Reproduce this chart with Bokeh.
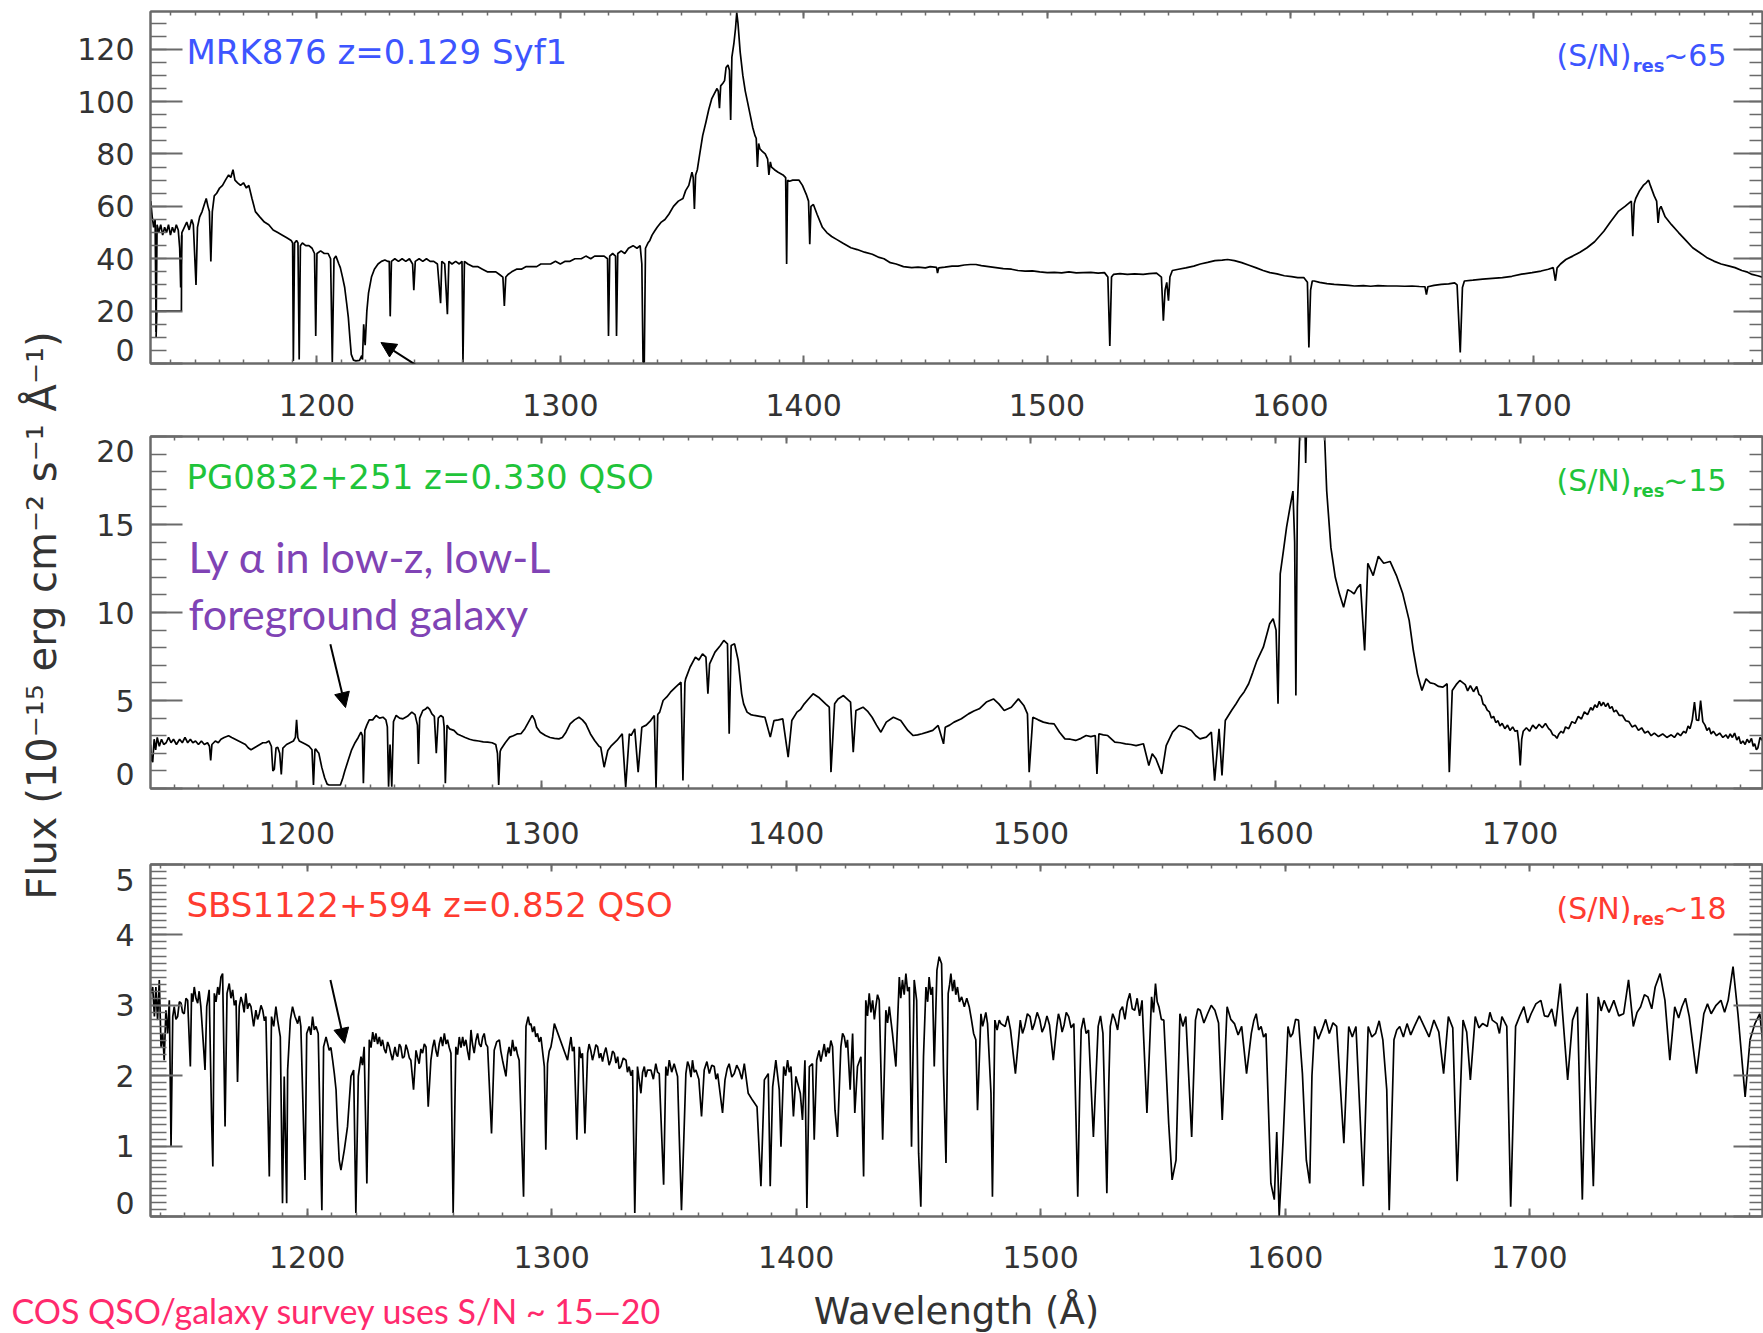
import math
from bokeh.plotting import figure
from bokeh.layouts import row, column
from bokeh.models import (Range1d, LinearAxis, SingleIntervalTicker, FixedTicker, Label,
                          Arrow, NormalHead, ColumnDataSource, CustomLabelingPolicy)
from bokeh.embed import file_html
from bokeh.resources import INLINE

# ---------------------------------------------------------------------------
# MRK876 (z=0.129, Seyfert 1) -- wavelength (A) and flux (1e-15 erg/cm2/s/A)
# ---------------------------------------------------------------------------
MRK876_WAVE = [
    1131.7, 1132.3, 1132.9, 1133.5, 1133.9, 1134.3, 1135.0, 1135.8, 1136.6, 1137.4,
    1138.2, 1139.0, 1139.8, 1140.6, 1141.4, 1142.2, 1143.0, 1143.6, 1144.0, 1144.5,
    1145.5, 1146.5, 1147.5, 1148.5, 1149.2, 1150.3, 1150.9, 1151.8, 1152.8, 1153.8,
    1154.5, 1155.2, 1155.8, 1156.4, 1157.0, 1157.8, 1158.8, 1160.0, 1161.2, 1162.4,
    1163.7, 1164.6, 1165.5, 1166.3, 1167.4, 1168.6, 1169.8, 1171.0, 1172.0, 1173.3,
    1174.7, 1176.5, 1178.4, 1180.2, 1182.0, 1183.9, 1185.8, 1187.6, 1189.4, 1190.0,
    1190.3, 1190.8, 1191.6, 1192.2, 1192.7, 1193.2, 1194.0, 1195.4, 1196.7, 1198.0,
    1199.0, 1199.5, 1200.0, 1201.5, 1203.0, 1204.6, 1205.6, 1206.3, 1207.0, 1207.8,
    1209.0, 1209.6, 1210.5, 1211.4, 1212.2, 1212.9, 1213.6, 1214.1, 1215.0, 1216.0,
    1217.5, 1218.4, 1218.7, 1219.2, 1219.8, 1220.5, 1221.2, 1222.4, 1223.6, 1225.1,
    1226.5, 1227.9, 1229.0, 1229.7, 1230.1, 1230.6, 1232.0, 1233.5, 1235.0, 1236.5,
    1238.0, 1239.3, 1239.8, 1240.4, 1242.0, 1243.5, 1245.0, 1246.5, 1248.0, 1249.5,
    1250.8, 1251.3, 1252.5, 1253.6, 1254.2, 1255.5, 1257.0, 1258.5, 1259.6, 1260.0,
    1260.6, 1262.0, 1264.0, 1266.0, 1268.0, 1270.0, 1271.9, 1273.5, 1275.0, 1276.4,
    1277.0, 1277.6, 1278.5, 1280.0, 1282.0, 1284.0, 1286.0, 1288.0, 1290.3, 1292.0,
    1294.0, 1296.0, 1298.0, 1300.0, 1302.0, 1304.0, 1306.0, 1308.6, 1310.5, 1312.5,
    1314.1, 1316.0, 1318.0, 1319.4, 1319.8, 1320.3, 1321.5, 1322.7, 1323.1, 1323.6,
    1325.0, 1326.5, 1328.0, 1329.9, 1331.5, 1332.8, 1333.5, 1334.0, 1334.5, 1335.0,
    1336.0, 1336.8, 1337.7, 1338.7, 1339.8, 1341.5, 1343.0, 1344.6, 1346.5, 1348.5,
    1350.4, 1351.5, 1352.8, 1354.1, 1354.6, 1355.1, 1355.6, 1356.3, 1357.3, 1358.5,
    1359.8, 1361.0, 1362.2, 1363.3, 1364.4, 1364.9, 1365.4, 1365.9, 1366.8, 1367.5,
    1368.1, 1368.9, 1369.5, 1370.0, 1370.5, 1371.3, 1372.0, 1372.5, 1373.0, 1373.9,
    1375.0, 1376.0, 1376.9, 1378.0, 1379.1, 1380.0, 1380.5, 1381.0, 1381.5, 1382.0,
    1383.0, 1384.2, 1385.2, 1385.7, 1386.3, 1386.8, 1388.0, 1389.5, 1391.5, 1392.6,
    1393.0, 1393.4, 1394.2, 1395.5, 1397.0, 1398.1, 1399.5, 1401.1, 1402.0, 1402.5,
    1403.0, 1404.0, 1405.5, 1407.7, 1409.5, 1411.5, 1413.5, 1416.0, 1419.4, 1422.0,
    1425.0, 1428.2, 1431.0, 1433.0, 1435.6, 1438.0, 1441.0, 1444.4, 1447.0, 1450.0,
    1452.0, 1454.6, 1455.0, 1455.5, 1458.0, 1461.0, 1463.4, 1466.0, 1468.5, 1470.8,
    1473.0, 1476.0, 1479.0, 1482.0, 1485.4, 1488.0, 1491.0, 1494.0, 1497.0, 1500.1,
    1503.0, 1506.0, 1509.0, 1512.0, 1514.8, 1518.0, 1521.0, 1523.6, 1525.0, 1525.8,
    1526.5, 1527.3, 1530.0, 1533.0, 1536.0, 1539.5, 1542.0, 1545.0, 1547.0, 1547.8,
    1548.5, 1549.2, 1549.9, 1550.5, 1551.5, 1554.0, 1557.0, 1560.3, 1563.0, 1566.0,
    1569.0, 1572.0, 1574.2, 1577.0, 1580.0, 1583.0, 1586.0, 1588.8, 1591.6, 1594.5,
    1597.5, 1600.5, 1603.0, 1605.5, 1607.0, 1607.6, 1608.3, 1609.0, 1609.8, 1612.0,
    1615.0, 1618.0, 1621.0, 1624.0, 1626.3, 1630.0, 1633.0, 1636.0, 1640.0, 1643.7,
    1647.0, 1650.0, 1653.0, 1655.3, 1655.9, 1656.5, 1659.0, 1662.0, 1665.0, 1667.5,
    1668.5, 1669.8, 1670.7, 1671.5, 1675.0, 1679.0, 1683.0, 1687.1, 1691.0, 1695.0,
    1699.3, 1703.0, 1706.0, 1708.0, 1708.9, 1709.6, 1711.0, 1713.2, 1716.0, 1719.0,
    1721.9, 1725.0, 1728.8, 1731.5, 1734.9, 1737.5, 1740.1, 1740.7, 1741.3, 1741.9,
    1743.5, 1745.0, 1746.2, 1747.2, 1747.9, 1749.5, 1750.5, 1751.1, 1751.7, 1752.3,
    1754.0, 1756.6, 1759.5, 1762.5, 1765.3, 1768.0, 1771.0, 1774.0, 1777.0, 1780.0,
    1782.7, 1785.5, 1787.5, 1789.7, 1792.0, 1794.5,
]
MRK876_FLUX = [
    62, 56, 52, 55, 12, 53, 50, 53, 49, 52,
    50, 53, 49, 52, 50, 53, 51, 44, 29, 50,
    52, 54, 51, 55, 53, 30, 52, 56, 58, 61,
    63, 60, 58, 39, 58, 64, 65, 67, 68, 70,
    72, 71, 74, 70, 69, 68, 69, 67, 68, 63,
    58, 56, 54, 53, 51, 50, 49, 48, 47, 46,
    1, 46, 47, 46, 1.5, 45, 46, 45, 45, 44,
    42, 10.5, 42, 43, 42, 42, 40, 0.5, 40, 41,
    38, 36.6, 33, 29, 23, 17.5, 9, 3.5, 1.3, 1.0,
    1.2, 3, 1.5, 15, 7, 20, 27, 33, 36, 38,
    39, 39.5, 39, 39, 18, 39, 40, 39, 40, 39,
    40, 38, 28, 39, 40, 39, 40, 39, 39, 38,
    23, 39, 38, 18.8, 39, 38, 39, 38, 39, 0.4,
    39, 38, 37, 37, 36, 35, 35, 35, 34, 33,
    22, 33, 34, 35, 36, 36, 37, 37, 37, 38,
    38, 38, 39, 38, 39, 39, 40, 40, 41, 40,
    41, 41, 41, 40, 10.5, 41, 42, 41, 10.5, 42,
    43, 42, 44, 45, 44, 45, 38, 0.5, 0.5, 44,
    46, 47, 49, 50.5, 52, 54, 55, 57, 60, 62,
    63, 66, 68, 73, 71, 59, 72, 74, 80, 87,
    92, 97, 101, 103, 105, 104, 97.5, 106, 107, 108,
    113, 114, 112, 93, 117, 122, 128, 134, 130, 119,
    110, 104, 100, 95, 90, 87, 86, 75, 84, 82,
    81, 80, 78, 72, 77, 75, 74, 73, 72, 71,
    38, 70, 69.6, 70, 70, 70, 68, 64.5, 62, 45.5,
    60, 60.7, 57, 52, 50, 48.5, 47.4, 46, 44.2, 43.5,
    42.5, 41.7, 40.5, 40, 38.5, 38, 37, 36.6, 36.8, 36.5,
    37, 36.7, 34.5, 36.5, 36.8, 37.2, 37.2, 37.6, 37.8, 37.8,
    37.4, 37, 36.6, 36.2, 36, 35.5, 35.3, 35.4, 35, 34.7,
    34.8, 34.6, 35, 34.6, 34.7, 34.8, 34.5, 34.7, 33, 6.7,
    33, 34, 34.3, 34, 34.2, 34, 34.3, 34.5, 33, 16.3,
    28, 31, 24, 33, 35.5, 36, 36.5, 37.2, 38, 38.6,
    39.3, 39.5, 39.7, 39.3, 38.5, 37.5, 36.5, 35.5, 34.7, 34.2,
    33.5, 33.2, 32.8, 32.8, 31, 6.1, 28, 31.5, 31.5, 31,
    30.5, 30.2, 30.0, 29.8, 29.6, 29.7, 29.5, 29.7, 29.6, 29.6,
    29.5, 29.6, 29.4, 29.3, 26.3, 29.3, 29.8, 30.2, 30.4, 30.8,
    30, 4.2, 29, 31.5, 31.8, 32.2, 32.5, 32.8, 33.3, 34.1,
    34.7, 35.3, 36, 36.6, 31.6, 36.5, 38, 39.7, 41, 42.5,
    44.2, 46.5, 50.5, 54, 58.2, 60, 62, 48.6, 61, 63,
    66, 68, 69, 70, 68, 64, 62, 53.7, 59, 60,
    56, 53, 50, 47, 44.2, 42.5, 40.5, 39.1, 38, 37.3,
    36.6, 35.5, 35, 34, 33.5, 32.8,
]
# short detector-edge segment at the blue end of the MRK876 spectrum
MRK876_EDGE_WAVE = [1133.9, 1134.2, 1144.3, 1144.4]
MRK876_EDGE_FLUX = [10, 20, 20, 49]

# ---------------------------------------------------------------------------
# PG0832+251 (z=0.330, QSO)
# ---------------------------------------------------------------------------
PG0832_WAVE = [
    1140.2, 1140.7, 1141.1, 1141.7, 1142.3, 1142.95, 1143.8, 1144.7, 1145.6, 1146.6,
    1147.6, 1148.6, 1149.6, 1150.8, 1152.1, 1153.2, 1154.3, 1155.4, 1156.5, 1157.5,
    1158.6, 1159.8, 1161.0, 1162.2, 1163.5, 1164.3, 1164.8, 1165.3, 1166.7, 1167.9,
    1169.0, 1170.3, 1172.1, 1173.4, 1174.8, 1176.2, 1177.6, 1179.0, 1180.2, 1181.3,
    1182.5, 1183.7, 1184.9, 1186.1, 1187.4, 1188.6, 1189.6, 1190.2, 1190.8, 1191.5,
    1192.2, 1193.0, 1193.65, 1194.3, 1195.8, 1197.2, 1198.6, 1199.4, 1199.9, 1200.4,
    1201.0, 1202.4, 1203.8, 1205.0, 1206.2, 1206.8, 1207.4, 1207.7, 1208.4, 1209.0,
    1210.2, 1211.4, 1212.4, 1213.2, 1215.5, 1217.8, 1218.8, 1219.6, 1221.0, 1222.4,
    1223.8, 1225.1, 1226.2, 1226.8, 1227.2, 1227.8, 1228.6, 1229.6, 1231.0, 1232.4,
    1233.8, 1235.2, 1236.4, 1237.0, 1237.5, 1238.1, 1238.8, 1239.5, 1240.6, 1242.0,
    1243.4, 1245.2, 1247.0, 1248.3, 1249.3, 1249.7, 1250.2, 1251.5, 1252.5, 1253.4,
    1254.3, 1255.2, 1256.2, 1257.0, 1257.8, 1258.8, 1259.8, 1260.2, 1260.7, 1261.4,
    1262.4, 1264.2, 1265.6, 1267.0, 1268.8, 1270.6, 1272.5, 1274.3, 1276.2, 1278.0,
    1279.8, 1281.3, 1282.0, 1282.5, 1283.1, 1283.5, 1285.2, 1287.0, 1288.5, 1290.0,
    1291.6, 1293.2, 1294.8, 1296.2, 1297.2, 1298.0, 1299.5, 1301.6, 1303.5, 1305.3,
    1307.1, 1308.5, 1310.0, 1311.7, 1313.5, 1315.3, 1316.7, 1318.1, 1320.0, 1321.7,
    1323.5, 1324.2, 1325.6, 1327.1, 1328.6, 1330.8, 1333.0, 1334.4, 1335.9, 1336.6,
    1338.1, 1339.5, 1341.0, 1342.8, 1344.6, 1346.1, 1346.8, 1347.5, 1348.3, 1349.7,
    1351.2, 1352.7, 1354.8, 1357.0, 1357.8, 1358.6, 1358.9, 1360.7, 1362.9, 1364.3,
    1365.8, 1367.2, 1368.0, 1368.7, 1370.9, 1373.1, 1374.5, 1376.0, 1376.7, 1377.5,
    1378.9, 1380.4, 1381.8, 1382.6, 1384.0, 1385.5, 1387.0, 1389.2, 1391.3, 1393.5,
    1395.0, 1396.8, 1398.6, 1400.8, 1402.3, 1404.4, 1405.9, 1407.4, 1409.2, 1411.0,
    1413.2, 1416.1, 1417.6, 1418.3, 1419.8, 1421.2, 1423.4, 1426.3, 1427.4, 1428.5,
    1431.4, 1433.2, 1435.1, 1436.9, 1438.7, 1440.9, 1443.8, 1446.8, 1449.7, 1451.9,
    1453.7, 1455.5, 1457.7, 1459.9, 1462.1, 1464.3, 1465.0, 1466.8, 1468.6, 1471.6,
    1474.5, 1476.7, 1478.9, 1481.8, 1484.7, 1486.9, 1489.1, 1492.0, 1494.9, 1497.1,
    1498.6, 1499.3, 1500.8, 1503.0, 1505.1, 1507.3, 1509.5, 1511.7, 1513.9, 1516.1,
    1518.3, 1520.5, 1522.6, 1524.5, 1526.3, 1527.0, 1527.8, 1529.6, 1531.4, 1534.3,
    1536.5, 1538.7, 1540.9, 1543.0, 1546.0, 1548.2, 1549.6, 1551.1, 1553.5, 1555.3,
    1557.9, 1560.5, 1563.0, 1565.6, 1567.4, 1569.1, 1571.7, 1573.75, 1575.1, 1576.9,
    1578.1, 1579.45, 1582.0, 1583.8, 1585.5, 1587.2, 1589.0, 1590.7, 1592.4, 1595.0,
    1597.6, 1599.0, 1600.2, 1601.0, 1601.9, 1603.2, 1604.5, 1605.8, 1607.1, 1607.8,
    1608.3, 1608.9, 1609.3, 1610.5, 1611.7, 1612.3, 1613.1, 1619.2, 1620.9, 1622.6,
    1624.4, 1626.1, 1627.8, 1629.5, 1630.8, 1632.1, 1633.4, 1634.7, 1636.4, 1637.7,
    1639.9, 1642.0, 1644.2, 1646.8, 1649.4, 1652.0, 1654.6, 1656.3, 1658.0, 1659.8,
    1661.5, 1663.2, 1664.9, 1666.6, 1668.4, 1670.1, 1671.0, 1672.2, 1673.8, 1675.3,
    1677.5, 1678.5, 1679.6, 1680.9, 1682.2, 1683.1, 1684.0, 1684.8, 1685.7, 1686.5,
    1687.4, 1688.2, 1689.1, 1690.0, 1690.9, 1691.7, 1692.6, 1693.7, 1694.8, 1695.8,
    1696.9, 1697.9, 1698.8, 1699.4, 1700.0, 1700.6, 1701.2, 1702.5, 1703.8, 1705.1,
    1706.4, 1707.7, 1709.0, 1710.3, 1711.6, 1712.4, 1713.3, 1714.2, 1715.0, 1715.8,
    1716.7, 1717.6, 1718.5, 1719.8, 1721.1, 1722.4, 1723.7, 1725.0, 1726.2, 1727.5,
    1728.8, 1729.6, 1730.5, 1731.4, 1732.3, 1733.1, 1734.0, 1734.9, 1735.8, 1736.6,
    1737.5, 1738.3, 1739.2, 1740.5, 1741.8, 1743.1, 1744.4, 1745.7, 1747.0, 1748.3,
    1749.6, 1750.9, 1752.2, 1753.5, 1754.8, 1756.5, 1758.2, 1759.9, 1761.7, 1763.0,
    1764.3, 1765.5, 1766.8, 1767.7, 1768.6, 1769.4, 1770.3, 1771.2, 1772.0, 1772.9,
    1773.7, 1774.6, 1775.5, 1776.3, 1777.2, 1778.0, 1778.9, 1780.2, 1781.5, 1782.8,
    1784.1, 1784.9, 1785.8, 1786.7, 1787.6, 1788.5, 1789.3, 1790.1, 1791.0, 1791.9,
    1792.7, 1793.6, 1794.5, 1795.2, 1795.8, 1796.5, 1797.1, 1798.0, 1799.0,
]
PG0832_FLUX = [
    2.5, 1.6, 1.5, 2.8, 2.2, 2.9, 2.4, 2.8, 2.5, 2.6,
    2.9, 2.6, 2.8, 2.5, 2.8, 2.6, 2.9, 2.6, 2.8, 2.6,
    2.7, 2.5, 2.7, 2.5, 2.6, 2.4, 1.6, 2.5, 2.7, 2.6,
    2.8, 2.9, 3.0, 2.9, 2.8, 2.7, 2.6, 2.5, 2.3, 2.2,
    2.3, 2.4, 2.5, 2.6, 2.6, 2.7, 2.4, 1.0, 1.1, 2.3,
    2.35, 2.0, 0.8, 2.3, 2.5, 2.6, 2.7, 2.9, 3.9, 2.9,
    2.7, 2.6, 2.5, 2.4, 2.2, 0.2, 2.2, 2.25, 2.1, 2.0,
    1.2, 0.6, 0.25, 0.2, 0.2, 0.2, 0.6, 1.0, 1.6, 2.2,
    2.6, 2.9, 3.2, 3.0, 0.3, 3.3, 3.6, 3.9, 3.9, 4.15,
    4.0, 4.05, 3.9, 3.5, 0.1, 2.5, 0.1, 3.8, 4.15, 4.0,
    3.96, 4.1, 4.34, 4.2, 3.6, 1.4, 4.0, 4.43, 4.5, 4.62,
    4.5, 4.24, 4.1, 2.0, 4.0, 4.15, 4.05, 3.5, 0.3, 3.6,
    3.39, 3.3, 3.1, 3.01, 2.9, 2.8, 2.73, 2.7, 2.65, 2.63,
    2.6, 2.5, 2.0, 0.2, 2.1, 2.25, 2.6, 2.92, 3.0, 3.1,
    3.11, 3.4, 3.8, 4.15, 3.9, 3.48, 3.2, 3.01, 2.9, 2.85,
    2.82, 2.9, 3.2, 3.67, 3.9, 4.05, 3.9, 3.67, 3.1, 2.73,
    2.4, 2.35, 1.21, 2.16, 2.44, 2.73, 3.11, 0.08, 3.11, 3.01,
    3.39, 0.93, 3.48, 3.6, 3.86, 4.15, 0.0, 4.2, 4.34, 5.0,
    5.2, 5.47, 5.76, 6.04, 0.45, 6.0, 6.23, 6.89, 7.46, 7.3,
    7.65, 7.46, 5.38, 7.08, 7.75, 8.13, 8.41, 8.22, 3.11, 8.13,
    8.22, 7.27, 5.38, 4.81, 4.34, 4.2, 4.15, 4.1, 4.05, 2.92,
    3.86, 3.9, 3.96, 1.78, 3.86, 4.34, 4.5, 4.81, 5.1, 5.38,
    5.19, 4.81, 4.62, 0.93, 4.81, 5.09, 5.28, 4.91, 2.06, 4.43,
    4.62, 4.4, 4.05, 3.6, 3.2, 3.77, 4.05, 3.86, 3.30, 3.01,
    3.05, 3.11, 3.2, 3.30, 3.58, 2.54, 3.48, 3.6, 3.77, 3.96,
    4.24, 4.4, 4.53, 4.91, 5.09, 4.81, 4.43, 4.62, 5.09, 4.72,
    4.24, 0.93, 4.05, 3.9, 3.77, 3.7, 3.67, 3.20, 2.82, 2.8,
    2.73, 2.85, 3.01, 2.95, 3.01, 0.83, 3.11, 3.05, 3.01, 2.63,
    2.6, 2.54, 2.5, 2.44, 2.54, 1.31, 1.97, 1.69, 0.83, 2.44,
    3.20, 3.58, 3.48, 3.30, 3.0, 2.82, 2.92, 3.20, 0.45, 3.39,
    0.74, 3.86, 4.43, 4.8, 5.19, 5.5, 5.95, 6.6, 7.27, 8.03,
    9.36, 9.64, 9.0, 4.81, 12.2, 13.5, 14.85, 15.9, 16.9, 14.0,
    5.28, 16.0, 17.5, 23, 23, 18.5, 23, 23, 16.9, 13.7,
    12.0, 11.06, 10.3, 11.3, 11.2, 11.06, 11.4, 11.6, 7.84, 12.8,
    12.1, 13.2, 12.8, 12.9, 12.1, 11.06, 9.55, 7.84, 6.5, 5.57,
    6.23, 6.0, 5.95, 5.8, 5.76, 5.95, 0.93, 5.57, 5.9, 6.14,
    5.9, 5.55, 5.85, 5.5, 5.8, 5.35, 5.25, 4.8, 4.7, 4.45,
    4.35, 4.0, 4.1, 3.75, 3.85, 3.55, 3.7, 3.4, 3.6, 3.3,
    3.5, 3.25, 3.3, 2.6, 1.31, 2.8, 3.25, 3.45, 3.25, 3.6,
    3.4, 3.65, 3.45, 3.7, 3.4, 3.3, 3.05, 3.0, 2.85, 3.1,
    3.25, 3.15, 3.5, 3.4, 3.8, 3.7, 4.1, 3.95, 4.35, 4.2,
    4.6, 4.45, 4.75, 4.6, 4.95, 4.7, 4.9, 4.65, 4.85, 4.55,
    4.65, 4.35, 4.45, 4.15, 4.15, 3.85, 3.8, 3.5, 3.6, 3.3,
    3.45, 3.15, 3.25, 3.0, 3.15, 2.95, 3.1, 2.9, 3.05, 2.9,
    3.15, 3.0, 3.25, 3.15, 3.55, 3.4, 3.9, 4.91, 3.9, 3.86,
    5.0, 3.8, 3.6, 3.3, 3.45, 3.1, 3.25, 3.0, 3.15, 2.9,
    3.05, 2.85, 3.1, 2.9, 3.15, 2.75, 2.95, 2.55, 2.7, 2.5,
    2.8, 2.6, 2.85, 2.4, 2.55, 2.2, 2.3, 2.9, 2.73,
]

# ---------------------------------------------------------------------------
# SBS1122+594 (z=0.852, QSO)
# ---------------------------------------------------------------------------
SBS1122_WAVE = [
    1136.1, 1136.8, 1137.5, 1138.1, 1138.8, 1139.5, 1140.2, 1140.9, 1141.5, 1142.2,
    1142.9, 1143.6, 1144.3, 1145.0, 1145.6, 1146.3, 1147.0, 1147.7, 1148.4, 1149.0,
    1149.7, 1150.4, 1151.1, 1152.2, 1152.7, 1153.2, 1153.8, 1154.5, 1155.2, 1155.8,
    1156.5, 1157.6, 1158.2, 1158.9, 1159.9, 1160.9, 1161.4, 1162.0, 1162.7, 1163.4,
    1164.0, 1164.7, 1165.4, 1166.4, 1167.2, 1168.1, 1168.8, 1169.5, 1170.2, 1170.9,
    1171.5, 1172.2, 1172.9, 1173.6, 1174.2, 1174.9, 1175.6, 1176.3, 1177.0, 1178.1,
    1179.0, 1179.7, 1180.4, 1181.1, 1181.8, 1182.5, 1183.1, 1184.5, 1185.4, 1186.3,
    1187.2, 1187.9, 1189.0, 1189.9, 1190.6, 1191.6, 1192.0, 1193.1, 1194.0, 1195.0,
    1196.1, 1196.8, 1197.4, 1199.1, 1199.8, 1200.8, 1201.5, 1202.2, 1202.9, 1203.6,
    1204.5, 1206.0, 1206.7, 1207.7, 1208.4, 1209.0, 1209.7, 1210.4, 1211.1, 1211.8,
    1212.4, 1213.1, 1213.8, 1215.2, 1216.5, 1217.9, 1219.0, 1219.9, 1220.9, 1222.0,
    1222.6, 1223.3, 1224.4, 1225.4, 1226.1, 1226.8, 1227.5, 1228.1, 1228.8, 1229.5,
    1230.2, 1230.8, 1231.5, 1232.2, 1232.9, 1233.6, 1234.3, 1234.9, 1235.9, 1236.5,
    1237.0, 1237.7, 1238.3, 1239.0, 1239.7, 1240.4, 1241.1, 1241.8, 1242.4, 1243.5,
    1244.5, 1245.2, 1245.8, 1246.5, 1247.2, 1247.9, 1248.6, 1249.5, 1250.6, 1251.3,
    1252.0, 1252.7, 1253.3, 1254.0, 1254.7, 1255.4, 1256.1, 1256.8, 1257.4, 1258.1,
    1258.8, 1259.7, 1260.8, 1261.5, 1262.2, 1262.9, 1263.6, 1264.2, 1264.9, 1265.6,
    1266.3, 1267.0, 1267.6, 1268.3, 1269.0, 1269.7, 1270.4, 1271.1, 1271.8, 1272.4,
    1273.1, 1273.8, 1275.4, 1276.5, 1277.5, 1278.6, 1279.2, 1279.9, 1281.3, 1282.0,
    1282.6, 1283.3, 1284.0, 1284.7, 1285.4, 1286.0, 1286.7, 1288.5, 1289.5, 1290.4,
    1291.0, 1291.5, 1292.2, 1292.9, 1293.5, 1294.2, 1294.9, 1295.6, 1297.0, 1297.6,
    1298.3, 1299.0, 1299.7, 1300.4, 1301.1, 1306.5, 1307.2, 1307.9, 1308.5, 1309.2,
    1310.3, 1311.3, 1312.0, 1312.6, 1313.6, 1314.7, 1315.3, 1316.0, 1316.7, 1317.4,
    1318.1, 1318.8, 1319.5, 1320.1, 1320.8, 1321.5, 1322.2, 1322.9, 1323.5, 1324.2,
    1324.9, 1325.6, 1326.3, 1327.0, 1327.6, 1328.3, 1329.3, 1330.4, 1331.0, 1331.7,
    1332.4, 1333.1, 1334.0, 1335.1, 1336.5, 1337.2, 1337.9, 1338.5, 1339.2, 1340.6,
    1341.6, 1342.6, 1343.3, 1344.0, 1345.8, 1346.7, 1347.4, 1348.1, 1349.1, 1350.1,
    1351.5, 1352.2, 1353.1, 1354.0, 1354.9, 1355.6, 1356.3, 1357.0, 1357.6, 1358.3,
    1359.0, 1360.2, 1361.3, 1362.4, 1363.5, 1364.5, 1365.5, 1366.5, 1367.2, 1367.9,
    1369.9, 1370.9, 1371.8, 1372.6, 1373.7, 1374.7, 1375.7, 1376.7, 1377.8, 1378.8,
    1380.4, 1382.2, 1384.0, 1385.6, 1387.0, 1388.6, 1389.4, 1390.4, 1391.7, 1393.1,
    1393.8, 1394.9, 1395.7, 1396.5, 1397.2, 1397.9, 1398.9, 1399.9, 1401.7, 1402.6,
    1403.6, 1404.4, 1405.4, 1406.7, 1407.4, 1408.4, 1409.4, 1410.1, 1410.8, 1411.5,
    1412.2, 1412.9, 1413.5, 1414.2, 1414.9, 1415.9, 1416.9, 1418.3, 1419.0, 1419.7,
    1420.4, 1421.0, 1422.1, 1423.1, 1424.0, 1425.1, 1426.5, 1427.6, 1428.5, 1429.2,
    1429.9, 1430.6, 1431.3, 1432.0, 1432.6, 1433.3, 1434.0, 1435.4, 1436.7, 1437.4,
    1438.1, 1439.4, 1440.8, 1442.2, 1442.8, 1443.5, 1444.2, 1444.9, 1445.6, 1446.3,
    1447.2, 1448.3, 1449.3, 1450.1, 1451.0, 1452.1, 1453.1, 1453.8, 1454.4, 1455.1,
    1455.8, 1456.5, 1457.6, 1458.5, 1459.5, 1460.3, 1461.3, 1462.2, 1462.8, 1463.3,
    1464.0, 1464.7, 1465.3, 1466.0, 1466.8, 1467.7, 1468.8, 1469.8, 1470.8, 1471.7,
    1472.6, 1473.5, 1474.2, 1475.6, 1476.3, 1476.9, 1477.6, 1478.3, 1479.7, 1480.3,
    1481.3, 1482.2, 1483.1, 1483.75, 1485.5, 1486.6, 1487.7, 1489.7, 1491.7, 1492.6,
    1493.5, 1494.6, 1495.7, 1496.6, 1497.5, 1498.6, 1499.7, 1500.6, 1501.6, 1502.6,
    1503.65, 1505.2, 1506.6, 1507.3, 1508.0, 1508.8, 1509.6, 1510.5, 1511.5, 1512.5,
    1513.6, 1514.4, 1515.2, 1516.0, 1516.6, 1517.6, 1518.6, 1519.6, 1521.6, 1523.55,
    1524.5, 1525.5, 1526.3, 1527.1, 1527.9, 1528.5, 1529.5, 1530.5, 1531.5, 1532.5,
    1533.5, 1534.5, 1535.5, 1536.5, 1537.5, 1538.5, 1539.5, 1540.5, 1541.5, 1543.5,
    1545.4, 1546.2, 1547.0, 1547.7, 1548.4, 1549.4, 1550.4, 1552.4, 1553.8, 1555.4,
    1557.0, 1558.2, 1559.4, 1561.8, 1563.35, 1564.3, 1565.3, 1566.8, 1568.3, 1569.8,
    1571.3, 1572.8, 1574.3, 1576.3, 1577.8, 1579.3, 1580.8, 1582.25, 1584.25, 1586.2,
    1587.2, 1588.2, 1589.2, 1590.2, 1591.2, 1592.2, 1594.2, 1595.6, 1596.6, 1597.6,
    1599.2, 1601.2, 1602.2, 1603.15, 1604.3, 1605.5, 1607.1, 1608.7, 1610.1, 1611.0,
    1612.1, 1613.6, 1615.1, 1616.6, 1618.1, 1619.6, 1621.1, 1624.05, 1626.05, 1627.5,
    1629.0, 1632.0, 1634.0, 1635.5, 1637.0, 1638.5, 1640.0, 1641.6, 1642.6, 1644.55,
    1645.7, 1646.9, 1648.4, 1649.9, 1651.4, 1652.9, 1654.9, 1656.9, 1658.9, 1660.9,
    1662.9, 1664.85, 1666.8, 1668.6, 1670.4, 1672.8, 1674.3, 1675.8, 1677.8, 1679.3,
    1680.8, 1682.75, 1683.8, 1684.75, 1686.7, 1687.7, 1688.7, 1690.7, 1692.3, 1694.3,
    1696.0, 1697.7, 1699.2, 1700.65, 1702.6, 1704.65, 1706.1, 1707.6, 1709.1, 1710.6,
    1712.6, 1715.6, 1717.6, 1719.6, 1721.6, 1723.55, 1726.1, 1728.1, 1729.3, 1730.5,
    1732.5, 1734.5, 1736.5, 1738.5, 1740.5, 1742.45, 1744.0, 1745.45, 1747.0, 1748.4,
    1750.0, 1751.4, 1753.4, 1755.4, 1757.4, 1759.4, 1761.0, 1762.35, 1763.8, 1765.35,
    1768.3, 1771.3, 1772.8, 1774.3, 1776.3, 1778.3, 1779.8, 1781.25, 1783.25, 1785.25,
    1788.2, 1790.2, 1792.2, 1794.2, 1795.3,
]
SBS1122_FLUX = [
    3.17, 3.26, 2.84, 3.26, 2.79, 3.36, 2.41, 2.60, 2.22, 2.93,
    2.60, 3.07, 0.99, 2.84, 2.98, 2.80, 2.84, 3.05, 3.03, 2.90,
    2.88, 3.10, 3.07, 2.13, 3.17, 3.05, 3.26, 3.10, 3.03, 3.20,
    2.98, 2.41, 2.08, 2.98, 3.22, 1.37, 0.71, 3.17, 3.05, 3.26,
    3.15, 3.40, 3.45, 1.28, 3.17, 3.31, 3.10, 3.22, 3.00, 3.07,
    1.91, 2.98, 3.12, 3.03, 2.90, 3.17, 2.95, 3.03, 2.98, 2.70,
    2.93, 2.80, 2.88, 3.00, 2.93, 2.78, 2.84, 0.57, 2.84, 2.70,
    2.98, 2.79, 2.55, 0.19, 1.99, 0.19, 2.08, 2.79, 2.98, 2.84,
    2.74, 2.85, 2.70, 0.52, 2.60, 2.70, 2.58, 2.84, 2.65, 2.70,
    2.60, 0.09, 2.41, 2.55, 2.45, 2.36, 2.40, 2.22, 2.03, 1.80,
    1.28, 0.80, 0.66, 0.95, 1.28, 1.99, 2.08, 0.05, 1.99, 2.27,
    2.15, 2.41, 0.47, 2.51, 2.40, 2.62, 2.48, 2.60, 2.45, 2.55,
    2.42, 2.51, 2.38, 2.32, 2.48, 2.41, 2.30, 2.22, 2.41, 2.30,
    2.27, 2.45, 2.41, 2.25, 2.27, 2.44, 2.36, 2.25, 2.22, 1.80,
    2.36, 2.25, 2.17, 2.38, 2.32, 2.45, 2.41, 1.56, 2.22, 2.40,
    2.51, 2.35, 2.27, 2.45, 2.55, 2.42, 2.60, 2.45, 2.51, 2.40,
    2.32, 0.05, 2.41, 2.30, 2.55, 2.40, 2.55, 2.42, 2.51, 2.35,
    2.22, 2.65, 2.45, 2.32, 2.50, 2.60, 2.45, 2.41, 2.55, 2.60,
    2.45, 2.41, 1.18, 2.36, 2.48, 2.51, 2.35, 2.22, 1.99, 2.30,
    2.41, 2.28, 2.51, 2.35, 2.41, 2.30, 2.22, 0.28, 2.70, 2.84,
    2.72, 2.74, 2.62, 2.70, 2.55, 2.60, 2.48, 2.55, 2.13, 0.95,
    2.17, 2.35, 2.41, 2.55, 2.74, 2.22, 2.40, 2.55, 2.35, 2.41,
    1.09, 2.41, 2.25, 2.32, 1.18, 2.32, 2.45, 2.36, 2.22, 2.32,
    2.44, 2.41, 2.25, 2.32, 2.20, 2.32, 2.40, 2.27, 2.15, 2.22,
    2.35, 2.32, 2.18, 2.27, 2.10, 2.13, 2.25, 2.22, 2.05, 2.13,
    2.00, 2.08, 0.05, 2.13, 1.75, 2.05, 2.13, 1.98, 2.08, 2.08,
    1.95, 2.17, 2.05, 2.03, 0.45, 2.13, 2.00, 2.22, 2.05, 2.17,
    1.99, 1.13, 0.09, 1.04, 2.03, 2.20, 2.13, 1.98, 2.22, 2.05,
    2.08, 1.95, 1.42, 2.08, 2.20, 2.03, 2.15, 2.13, 1.95, 2.03,
    1.47, 1.94, 2.10, 2.17, 1.98, 2.03, 2.15, 2.08, 1.95, 2.17,
    1.75, 1.65, 1.56, 0.43, 1.94, 2.03, 0.43, 1.84, 2.22, 1.80,
    0.99, 2.13, 2.00, 2.22, 2.05, 2.13, 1.42, 1.99, 1.75, 1.37,
    2.22, 0.12, 2.13, 2.17, 1.09, 2.22, 2.36, 2.20, 2.32, 2.45,
    2.27, 2.40, 2.32, 2.50, 2.41, 1.51, 1.13, 2.41, 2.60, 2.55,
    2.40, 2.51, 1.80, 2.60, 1.47, 2.13, 2.27, 0.57, 3.07, 2.85,
    3.17, 2.90, 3.07, 2.80, 2.98, 3.15, 3.07, 1.09, 2.93, 2.75,
    2.98, 2.60, 2.13, 3.40, 3.10, 3.36, 3.15, 3.45, 3.20, 3.26,
    0.99, 3.36, 3.07, 0.90, 0.14, 2.27, 3.26, 3.05, 3.40, 3.15,
    3.26, 2.13, 3.50, 3.69, 3.59, 2.03, 0.76, 3.17, 3.30, 3.45,
    3.20, 3.36, 3.15, 3.26, 3.05, 3.12, 2.98, 3.10, 2.98, 2.80,
    2.60, 2.51, 1.51, 2.88, 2.70, 2.79, 2.90, 2.74, 1.75, 0.28,
    2.79, 2.65, 2.79, 2.74, 2.70, 2.85, 2.65, 2.03, 2.79, 2.60,
    2.70, 2.88, 2.84, 2.65, 2.74, 2.90, 2.79, 2.62, 2.70, 2.85,
    2.72, 2.22, 2.70, 2.88, 2.79, 2.62, 2.72, 2.90, 2.84, 2.68,
    2.74, 1.50, 0.28, 1.80, 2.65, 2.82, 2.60, 2.65, 1.13, 2.70,
    2.85, 2.60, 1.50, 0.33, 1.90, 2.70, 2.88, 2.79, 2.65, 2.92,
    2.98, 2.80, 3.05, 3.17, 2.95, 2.93, 3.10, 2.85, 3.07, 1.47,
    3.12, 2.90, 3.31, 3.05, 2.98, 2.80, 2.79, 1.32, 0.52, 0.80,
    2.88, 2.70, 2.84, 1.13, 2.79, 2.95, 2.93, 2.75, 2.88, 3.00,
    2.93, 2.75, 1.37, 2.98, 2.80, 2.74, 2.58, 2.70, 2.03, 2.60,
    2.78, 2.88, 2.65, 2.70, 2.55, 2.60, 0.47, 0.24, 1.20, 0.00,
    1.09, 2.70, 2.55, 2.60, 2.80, 2.79, 2.03, 0.80, 0.47, 2.00,
    2.70, 2.52, 2.65, 2.80, 2.60, 2.75, 2.70, 1.04, 2.70, 2.55,
    2.70, 0.43, 2.70, 2.55, 2.60, 2.78, 2.51, 1.80, 0.09, 2.51,
    2.65, 2.70, 2.55, 2.74, 2.58, 2.70, 2.85, 2.70, 2.55, 2.79,
    2.62, 2.03, 2.84, 2.68, 0.50, 2.79, 2.62, 1.94, 2.84, 2.68,
    2.74, 2.70, 2.90, 2.79, 2.74, 2.60, 2.84, 2.70, 0.14, 2.70,
    2.85, 2.98, 2.75, 2.88, 3.02, 3.07, 2.85, 2.84, 2.95, 2.70,
    3.31, 1.94, 2.79, 2.98, 0.24, 3.17, 0.43, 3.12, 2.92, 3.07,
    2.90, 3.07, 2.85, 2.88, 3.36, 2.70, 2.90, 2.98, 3.15, 3.12,
    2.95, 3.26, 3.45, 3.07, 2.22, 2.98, 2.82, 2.98, 3.10, 2.84,
    2.03, 2.88, 3.02, 2.88, 3.00, 3.07, 2.90, 3.07, 3.55, 2.88,
    1.70, 2.51, 2.74, 2.88, 2.51,
]

# Panel captions and residual signal-to-noise notes
PANEL_NAMES = ["MRK876 z=0.129 Syf1", "PG0832+251 z=0.330 QSO", "SBS1122+594 z=0.852 QSO"]
PANEL_SN = ["~65", "~15", "~18"]
PANEL_COLORS = ["#3d55ff", "#1fc43a", "#ff3b30"]

# Flux-axis labels; the two end values sit just inside the frame edges:
# (label position, text)
MRK876_YLABELS = [(5.1, "0"), (20, "20"), (40, "40"), (60, "60"), (80, "80"),
                  (100, "100"), (120, "120")]
PG0832_YLABELS = [(0.85, "0"), (5, "5"), (10, "10"), (15, "15"), (19.15, "20")]
SBS1122_YLABELS = [(0.19, "0"), (1, "1"), (2, "2"), (3, "3"), (4, "4"), (4.78, "5")]

# Arrows marking the damped Lyman-alpha trough in each spectrum: (x0, y0, x1, y1)
ARROWS = [
    (1244.4, -2.8, 1226.3, 8.0),
    (1213.7, 8.2, 1219.9, 4.6),
    (1209.5, 3.36, 1215.3, 2.46),
]

AXIS_COLOR = "#6a6a6a"
TICK_LABEL_COLOR = "#333333"
TICK_FONT = "DejaVu Sans"
SIDE_W = 70
PANEL_W = 1763 - SIDE_W

# mirrored axes carry ticks only
NO_LABELS = CustomLabelingPolicy(code="""
for (const i of [...indices])
    indices.unset(i)
return indices
""")


def style_axis(ax, tick_in, minor_in, show_labels, standoff=0):
    ax.axis_line_color = AXIS_COLOR
    ax.axis_line_width = 2
    ax.major_tick_line_color = AXIS_COLOR
    ax.major_tick_line_width = 2
    ax.minor_tick_line_color = AXIS_COLOR
    ax.minor_tick_line_width = 1.5
    ax.major_tick_in = tick_in
    ax.major_tick_out = 0
    ax.minor_tick_in = minor_in
    ax.minor_tick_out = 0
    ax.major_label_standoff = standoff
    ax.major_label_text_font = TICK_FONT
    ax.major_label_text_color = TICK_LABEL_COLOR
    if show_labels:
        ax.major_label_text_font_size = "30px"
    else:
        ax.major_label_text_font_size = "0px"
        ax.major_label_policy = NO_LABELS


def build_panel(height, top, bottom, xr, yr, y_step, y_minor, wave, flux,
                idx, ylabels, x_standoff):
    p = figure(width=PANEL_W, height=height,
               x_range=Range1d(*xr), y_range=Range1d(*yr),
               output_backend="svg", toolbar_location=None,
               x_axis_location=None, y_axis_location=None,
               min_border_left=150 - SIDE_W, min_border_right=1,
               min_border_top=top, min_border_bottom=bottom)
    p.grid.visible = False
    p.outline_line_color = AXIS_COLOR
    p.outline_line_width = 2

    xt = SingleIntervalTicker(interval=100, num_minor_ticks=10)
    yt = SingleIntervalTicker(interval=y_step, num_minor_ticks=y_minor)

    below = LinearAxis(ticker=xt)
    style_axis(below, 8, 4, True, standoff=x_standoff)
    p.add_layout(below, "below")
    above = LinearAxis(ticker=xt)
    style_axis(above, 7, 4, False)
    p.add_layout(above, "above")

    # left side: inward ticks on the frame, then the value labels beside them
    left_ticks = LinearAxis(ticker=yt)
    style_axis(left_ticks, 32, 16, False)
    p.add_layout(left_ticks, "left")
    positions = [v for v, _ in ylabels]
    left_labels = LinearAxis(ticker=FixedTicker(ticks=positions, minor_ticks=[]))
    style_axis(left_labels, 0, 0, True, standoff=16)
    left_labels.axis_line_color = None
    left_labels.major_tick_line_color = None
    left_labels.minor_tick_line_color = None
    left_labels.major_label_overrides = {v: t for v, t in ylabels}
    p.add_layout(left_labels, "left")

    right = LinearAxis(ticker=yt)
    style_axis(right, 29, 13, False)
    p.add_layout(right, "right")

    src = ColumnDataSource(data=dict(wave=wave, flux=flux))
    p.line("wave", "flux", source=src, line_color="black", line_width=1.7)

    color = PANEL_COLORS[idx]
    p.add_layout(Label(x=xr[0], y=yr[1], x_offset=36, y_offset=-40,
                       text=PANEL_NAMES[idx], text_font=TICK_FONT,
                       text_font_size="34px", text_color=color,
                       text_align="left", text_baseline="middle"))
    # (S/N) with a "res" subscript, right-aligned against the frame
    p.add_layout(Label(x=xr[1], y=yr[1], x_offset=-36, y_offset=-44,
                       text=PANEL_SN[idx], text_font=TICK_FONT, text_font_size="30px",
                       text_color=color, text_align="right", text_baseline="middle"))
    p.add_layout(Label(x=xr[1], y=yr[1], x_offset=-98, y_offset=-54,
                       text="res", text_font=TICK_FONT, text_font_size="18px",
                       text_font_style="bold",
                       text_color=color, text_align="right", text_baseline="middle"))
    p.add_layout(Label(x=xr[1], y=yr[1], x_offset=-131, y_offset=-44,
                       text="(S/N)", text_font=TICK_FONT, text_font_size="30px",
                       text_color=color, text_align="right", text_baseline="middle"))

    x0, y0, x1, y1 = ARROWS[idx]
    p.add_layout(Arrow(x_start=x0, y_start=y0, x_end=x1, y_end=y1,
                       line_color="black", line_width=2,
                       end=NormalHead(size=15, fill_color="black", line_color="black")))
    return p


p1 = build_panel(430, 11, 67, (1131.6, 1794.0), (0, 134.4), 20, 4,
                 MRK876_WAVE, MRK876_FLUX, 0, MRK876_YLABELS, 30)
p1.line(MRK876_EDGE_WAVE, MRK876_EDGE_FLUX, line_color="black", line_width=1.7)

p2 = build_panel(430, 6, 72, (1140.2, 1799.0), (0, 20), 5, 5,
                 PG0832_WAVE, PG0832_FLUX, 1, PG0832_YLABELS, 33)
p2.add_layout(Label(x=1140.2, y=20, x_offset=38, y_offset=-120,
                    text="Ly \u03b1 in low-z, low-L", text_font="Lato",
                    text_font_size="43px", text_color="#8043b5",
                    text_align="left", text_baseline="middle"))
p2.add_layout(Label(x=1140.2, y=20, x_offset=38, y_offset=-177,
                    text="foreground galaxy", text_font="Lato",
                    text_font_size="43px", text_color="#8043b5",
                    text_align="left", text_baseline="middle"))

p3 = build_panel(420, 4, 64, (1135.9, 1795.3), (0, 5), 1, 10,
                 SBS1122_WAVE, SBS1122_FLUX, 2, SBS1122_YLABELS, 29)

# shared flux-axis title spanning the three panels
side = figure(width=SIDE_W, height=1280, x_range=Range1d(0, SIDE_W), y_range=Range1d(0, 1280),
              output_backend="svg", toolbar_location=None,
              x_axis_location=None, y_axis_location=None, min_border=0)
side.grid.visible = False
side.outline_line_color = None
side.add_layout(Label(x=41, y=665, angle=math.pi / 2,
                      text="Flux (10\u207b\u00b9\u2075 erg cm\u207b\u00b2 s\u207b\u00b9 \u00c5\u207b\u00b9)",
                      text_font=TICK_FONT, text_font_size="40px",
                      text_color=TICK_LABEL_COLOR, text_align="center",
                      text_baseline="middle"))

# bottom strip: wavelength-axis title and the survey note
strip = figure(width=1763, height=53, x_range=Range1d(0, 1763), y_range=Range1d(0, 53),
               output_backend="svg", toolbar_location=None,
               x_axis_location=None, y_axis_location=None, min_border=0)
strip.grid.visible = False
strip.outline_line_color = None
strip.add_layout(Label(x=956, y=22, text="Wavelength (\u00c5)", text_font=TICK_FONT,
                       text_font_size="37px", text_color=TICK_LABEL_COLOR,
                       text_align="center", text_baseline="middle"))
strip.add_layout(Label(x=11, y=23, text="COS QSO/galaxy survey uses  S/N ~ 15\u201420",
                       text_font="Lato", text_font_size="34px", text_color="#ff2a6d",
                       text_align="left", text_baseline="middle"))

layout = column(row(side, column(p1, p2, p3)), strip)
open("out.html", "w").write(file_html(layout, INLINE))
